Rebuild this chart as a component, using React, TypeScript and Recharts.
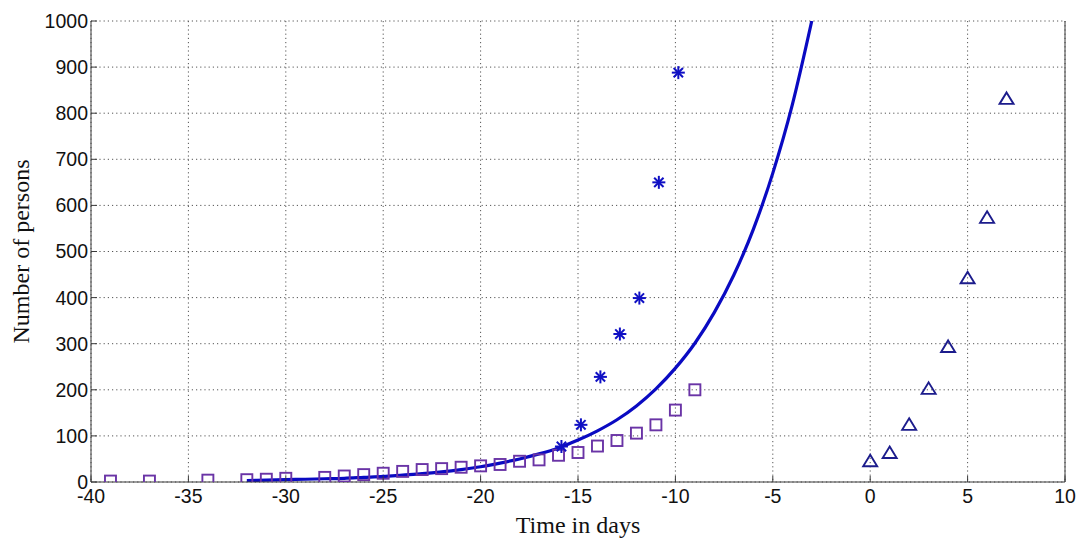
import React from "react";
import {
  CartesianGrid,
  ComposedChart,
  Line,
  Scatter,
  XAxis,
  YAxis,
} from "recharts";

// day ticks and person ticks
const xTicks = [-40, -35, -30, -25, -20, -15, -10, -5, 0, 5, 10];
const yTicks = [0, 100, 200, 300, 400, 500, 600, 700, 800, 900, 1000];

// squares (early counts)
const squareDays = [-39, -37, -34, -32, -31, -30, -28, -27, -26, -25, -24, -23, -22, -21, -20, -19, -18, -17, -16, -15, -14, -13, -12, -11, -10, -9];
const squareCounts = [2, 2, 4, 5, 6, 8, 10, 13, 16, 19, 23, 27, 29, 32, 35, 38, 45, 48, 58, 64, 78, 90, 106, 124, 156, 200];

// asterisks
const starDays = [-15.85, -14.85, -13.85, -12.85, -11.85, -10.85, -9.85];
const starCounts = [77, 124, 228, 321, 399, 650, 888];

// triangles
const triDays = [0, 1, 2, 3, 4, 5, 6, 7];
const triCounts = [45, 63, 124, 202, 293, 442, 573, 831];

// fitted curve
const curveDays = [-32, -31, -30, -29, -28, -27, -26, -25, -24, -23, -22, -21, -20, -19, -18, -17, -16, -15, -14, -13, -12, -11, -10, -9, -8, -7, -6, -5, -4, -3];
const curveCounts = [3, 4, 5, 6, 7, 8, 10, 12, 15, 18, 22, 27, 33, 41, 50, 61, 74, 91, 111, 135, 165, 202, 247, 301, 368, 449, 548, 670, 818, 1000];

const zip = (xs: number[], ys: number[]) => xs.map((x, i) => ({ x, y: ys[i] }));

const squares = zip(squareDays, squareCounts);
const stars = zip(starDays, starCounts);
const triangles = zip(triDays, triCounts);
const curve = zip(curveDays, curveCounts);

const SANS = "'Liberation Sans', Arial, sans-serif";
const SERIF = "'Liberation Serif', 'Times New Roman', serif";
const FRAME = "#3a3a3a";
const TICK_LEN = 6;
const LABEL_FONT = 19.5;

function SquareMark({ cx, cy }: any) {
  return (
    <rect x={cx - 5.5} y={cy - 5.5} width={11} height={11} fill="none" stroke="#6a34a6" strokeWidth={1.9} />
  );
}

function StarMark({ cx, cy }: any) {
  const r = 6.5;
  const d = r * 0.72;
  return (
    <g stroke="#1010c4" strokeWidth={2}>
      <line x1={cx} y1={cy - r} x2={cx} y2={cy + r} />
      <line x1={cx - r} y1={cy} x2={cx + r} y2={cy} />
      <line x1={cx - d} y1={cy - d} x2={cx + d} y2={cy + d} />
      <line x1={cx - d} y1={cy + d} x2={cx + d} y2={cy - d} />
    </g>
  );
}

function TriangleMark({ cx, cy }: any) {
  return (
    <path
      d={`M${cx},${cy - 6.5} L${cx + 7},${cy + 5} L${cx - 7},${cy + 5} Z`}
      fill="none"
      stroke="#1c1c8c"
      strokeWidth={1.9}
    />
  );
}

// inward tick marks, MATLAB style
const BOTTOM_GAP = 7;
const LEFT_GAP = 3;

function BottomTick({ x, y, payload }: any) {
  const axisY = y - BOTTOM_GAP;
  return (
    <g>
      <line x1={x} y1={axisY} x2={x} y2={axisY - TICK_LEN} stroke={FRAME} />
      <text x={x} y={y} dy="0.71em" textAnchor="middle" fontFamily={SANS} fontSize={LABEL_FONT} fill="#111">
        {payload.value}
      </text>
    </g>
  );
}

function TopTick({ x, y }: any) {
  return <line x1={x} y1={y} x2={x} y2={y + TICK_LEN} stroke={FRAME} />;
}

function LeftTick({ x, y, payload }: any) {
  const axisX = x + LEFT_GAP;
  return (
    <g>
      <line x1={axisX} y1={y} x2={axisX + TICK_LEN} y2={y} stroke={FRAME} />
      <text x={x} y={y} dy="0.355em" textAnchor="end" fontFamily={SANS} fontSize={LABEL_FONT} fill="#111">
        {payload.value}
      </text>
    </g>
  );
}

function RightTick({ x, y }: any) {
  return <line x1={x} y1={y} x2={x - TICK_LEN} y2={y} stroke={FRAME} />;
}

function YTitle({ viewBox }: any) {
  const x = 29;
  const y = viewBox.y + viewBox.height / 2;
  return (
    <text x={x} y={y} transform={`rotate(-90 ${x} ${y})`} textAnchor="middle" fontFamily={SERIF} fontSize={24} fill="#111">
      Number of persons
    </text>
  );
}

function XTitle({ viewBox }: any) {
  const x = viewBox.x + viewBox.width / 2;
  return (
    <text x={x} y={533} textAnchor="middle" fontFamily={SERIF} fontSize={24} fill="#111">
      Time in days
    </text>
  );
}

export default function App() {
  return (
    <div style={{ position: "fixed", left: 0, top: 0, width: 1079, height: 538, background: "#fff" }}>
      <ComposedChart width={1079} height={538} margin={{ top: 21, right: 0, bottom: 0, left: 0 }}>
        <CartesianGrid xAxisId="b" yAxisId="l" stroke="#555" strokeDasharray="1.2 3" />
        <XAxis
          xAxisId="b"
          dataKey="x"
          type="number"
          domain={[-40, 10]}
          ticks={xTicks}
          allowDataOverflow
          height={56}
          stroke={FRAME}
          tickLine={false}
          tickSize={0}
          tickMargin={BOTTOM_GAP}
          tick={<BottomTick />}
          label={<XTitle />}
        />
        <XAxis
          xAxisId="t"
          orientation="top"
          dataKey="x"
          type="number"
          domain={[-40, 10]}
          ticks={xTicks}
          height={0}
          stroke={FRAME}
          tickLine={false}
          tickSize={0}
          tickMargin={0}
          tick={<TopTick />}
        />
        <YAxis
          yAxisId="l"
          type="number"
          domain={[0, 1000]}
          ticks={yTicks}
          allowDataOverflow
          width={91}
          stroke={FRAME}
          tickLine={false}
          tickSize={0}
          tickMargin={LEFT_GAP}
          tick={<LeftTick />}
          label={<YTitle />}
        />
        <YAxis
          yAxisId="r"
          orientation="right"
          type="number"
          domain={[0, 1000]}
          ticks={yTicks}
          width={14}
          stroke={FRAME}
          tickLine={false}
          tickSize={0}
          tickMargin={0}
          tick={<RightTick />}
        />
        <Line
          xAxisId="b"
          yAxisId="l"
          data={curve}
          dataKey="y"
          type="monotone"
          stroke="#0a0ac2"
          strokeWidth={3.2}
          dot={false}
          isAnimationActive={false}
        />
        <Scatter xAxisId="b" yAxisId="l" data={squares} dataKey="y" shape={<SquareMark />} isAnimationActive={false} />
        <Scatter xAxisId="b" yAxisId="l" data={stars} dataKey="y" shape={<StarMark />} isAnimationActive={false} />
        <Scatter xAxisId="b" yAxisId="l" data={triangles} dataKey="y" shape={<TriangleMark />} isAnimationActive={false} />
      </ComposedChart>
    </div>
  );
}
